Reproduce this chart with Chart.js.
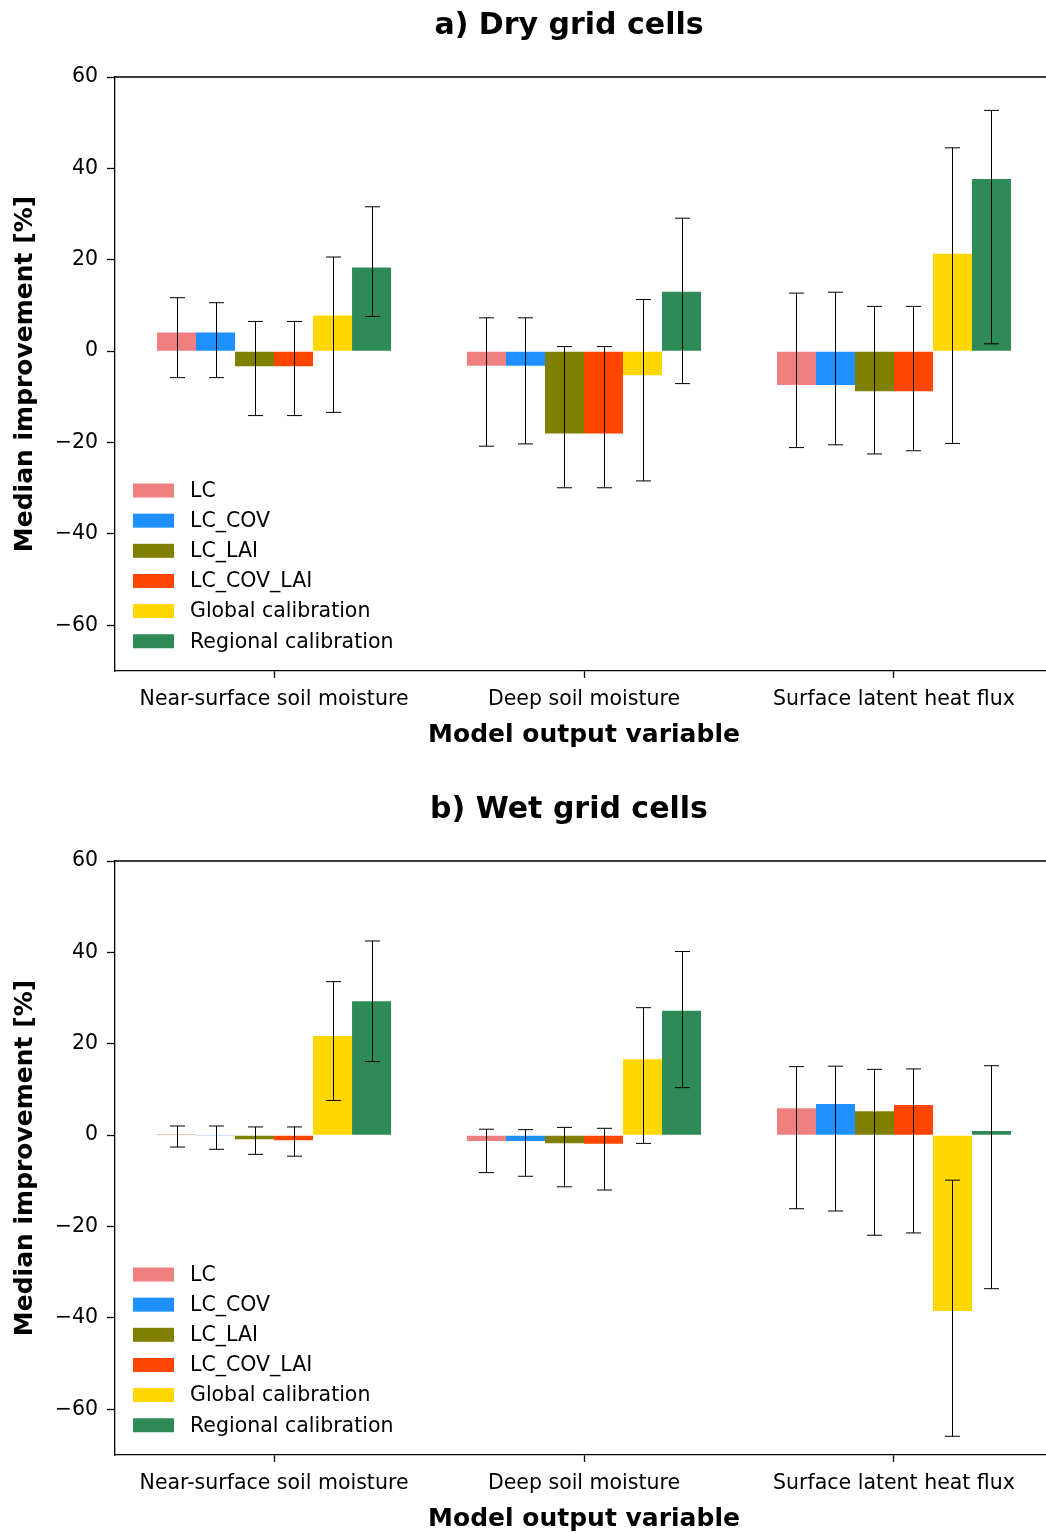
<!DOCTYPE html>
<html>
<head>
<meta charset="utf-8">
<script src="https://cdn.jsdelivr.net/npm/chart.js@4.4.0/dist/chart.umd.min.js"></script>
<style>
  html, body { margin: 0; padding: 0; background: #fff; overflow: hidden; }
  .wrap { width: 1046px; height: 1533px; overflow: hidden; }
  canvas { display: block; }
</style>
</head>
<body>
<div class="wrap">
  <canvas id="dry" width="1054" height="784"></canvas>
  <canvas id="wet" width="1054" height="784"></canvas>
</div>
<script>
const categories = ['Near-surface soil moisture', 'Deep soil moisture', 'Surface latent heat flux'];
const seriesNames = ['LC', 'LC_COV', 'LC_LAI', 'LC_COV_LAI', 'Global calibration', 'Regional calibration'];
const yTicks = [-60, -40, -20, 0, 20, 40, 60];

// rows = series, columns = categories
const dryMedian = [
    [4.1, -3.2, -7.4],
    [4.1, -3.2, -7.4],
    [-3.3, -18.0, -8.8],
    [-3.3, -18.0, -8.8],
    [7.8, -5.3, 21.3],
    [18.3, 13.0, 37.7],
];
const dryLow = [
    [-5.8, -20.8, -21.1],
    [-5.8, -20.3, -20.5],
    [-14.1, -29.9, -22.5],
    [-14.1, -29.9, -21.8],
    [-13.4, -28.4, -20.2],
    [7.6, -7.1, 1.6],
];
const dryHigh = [
    [11.7, 7.3, 12.7],
    [10.6, 7.3, 12.9],
    [6.5, 1.0, 9.8],
    [6.5, 1.0, 9.8],
    [20.6, 11.3, 44.5],
    [31.6, 29.1, 52.7],
];

const wetMedian = [
    [0.2, -1.3, 5.9],
    [-0.2, -1.3, 6.8],
    [-0.9, -1.75, 5.25],
    [-1.1, -1.9, 6.6],
    [21.7, 16.6, -38.5],
    [29.3, 27.2, 0.9],
];
const wetLow = [
    [-2.6, -8.2, -16.1],
    [-3.1, -9.0, -16.6],
    [-4.2, -11.3, -21.9],
    [-4.6, -12.0, -21.4],
    [7.6, -1.8, -65.9],
    [16.1, 10.4, -33.6],
];
const wetHigh = [
    [2.0, 1.3, 15.0],
    [2.0, 1.2, 15.1],
    [1.8, 1.7, 14.4],
    [1.8, 1.5, 14.5],
    [33.6, 27.9, -9.85],
    [42.5, 40.2, 15.2],
];

const COLORS = ['#F08080', '#1E90FF', '#808000', '#FF4500', '#FFD700', '#2E8B57'];
const FONT = "'DejaVu Sans', sans-serif";

Chart.defaults.font.family = FONT;
Chart.defaults.color = '#000';
Chart.defaults.animation = false;

const minus = v => (v < 0 ? '\u2212' + Math.abs(v) : String(v));

// error bars, top/right spines, panel title and an in-axes legend
const extras = {
    id: 'extras',
    afterDatasetsDraw(chart, args, opts) {
        const { ctx, chartArea: a, scales: { y } } = chart;
        ctx.save();
        ctx.strokeStyle = '#000';
        ctx.lineWidth = 1;
        chart.data.datasets.forEach((ds, i) => {
            const meta = chart.getDatasetMeta(i);
            meta.data.forEach((bar, j) => {
                const x = Math.round(bar.x) + 0.5;
                const yl = y.getPixelForValue(opts.low[i][j]);
                const yh = y.getPixelForValue(opts.high[i][j]);
                ctx.beginPath();
                ctx.moveTo(x, yl); ctx.lineTo(x, yh);
                ctx.moveTo(x - 7.5, yl); ctx.lineTo(x + 7.5, yl);
                ctx.moveTo(x - 7.5, yh); ctx.lineTo(x + 7.5, yh);
                ctx.stroke();
            });
        });

        ctx.lineWidth = 1.3;
        ctx.beginPath();
        ctx.moveTo(a.left, a.top); ctx.lineTo(a.right, a.top);
        ctx.lineTo(a.right, a.bottom);
        ctx.stroke();

        ctx.fillStyle = '#000';
        ctx.font = 'bold 30px ' + FONT;
        ctx.textAlign = 'center';
        ctx.textBaseline = 'middle';
        ctx.fillText(opts.title, 569, 26);

        ctx.font = '20.5px ' + FONT;
        ctx.textAlign = 'left';
        chart.data.datasets.forEach((ds, i) => {
            const cy = a.top + 413.5 + i * 30.15;
            ctx.fillStyle = ds.backgroundColor;
            ctx.fillRect(a.left + 18, cy - 7, 41, 14);
            ctx.fillStyle = '#000';
            ctx.fillText(ds.label, a.left + 75, cy + 1);
        });
        ctx.restore();
    }
};

function makeChart(id, title, median, low, high) {
    return new Chart(document.getElementById(id), {
        type: 'bar',
        data: {
            datasets: seriesNames.map((name, i) => ({
                label: name,
                data: categories.map((c, j) => ({ x: j, y: median[i][j] })),
                backgroundColor: COLORS[i],
                borderWidth: 0,
                barPercentage: 1,
                categoryPercentage: 0.755,
            })),
        },
        options: {
            responsive: false,
            layout: { padding: { top: 77, left: 0, right: 1, bottom: 0 } },
            plugins: {
                legend: { display: false },
                tooltip: { enabled: false },
                extras: { title, low, high },
            },
            scales: {
                x: {
                    type: 'linear',
                    min: -0.513,
                    max: 2.513,
                    offset: false,
                    grid: { display: true, drawOnChartArea: false, drawTicks: true, tickLength: 7, tickColor: '#000', tickWidth: 1.3, offset: false },
                    border: { display: true, color: '#000', width: 1.3 },
                    afterBuildTicks: s => { s.ticks = categories.map((c, j) => ({ value: j })); },
                    afterFit: s => { s.height = 113; },
                    ticks: {
                        font: { size: 20.5 },
                        padding: 9,
                        autoSkip: false,
                        maxRotation: 0,
                        callback: v => categories[v],
                    },
                    title: {
                        display: true,
                        text: 'Model output variable',
                        font: { size: 25, weight: 'bold' },
                        padding: { top: 0, bottom: 34 },
                    },
                },
                y: {
                    min: -70,
                    max: 60,
                    grid: { display: true, drawOnChartArea: false, drawTicks: true, tickLength: 8, tickColor: '#000', tickWidth: 1.3 },
                    border: { display: true, color: '#000', width: 1.3 },
                    afterBuildTicks: s => { s.ticks = yTicks.map(v => ({ value: v })); },
                    afterFit: s => { s.width = 115; },
                    ticks: { font: { size: 20.5 }, padding: 9, callback: minus },
                    title: {
                        display: true,
                        text: 'Median improvement [%]',
                        font: { size: 25, weight: 'bold' },
                        padding: { top: 10, bottom: 0 },
                    },
                },
            },
        },
        plugins: [extras],
    });
}

makeChart('dry', 'a) Dry grid cells', dryMedian, dryLow, dryHigh);
makeChart('wet', 'b) Wet grid cells', wetMedian, wetLow, wetHigh);
</script>
</body>
</html>
